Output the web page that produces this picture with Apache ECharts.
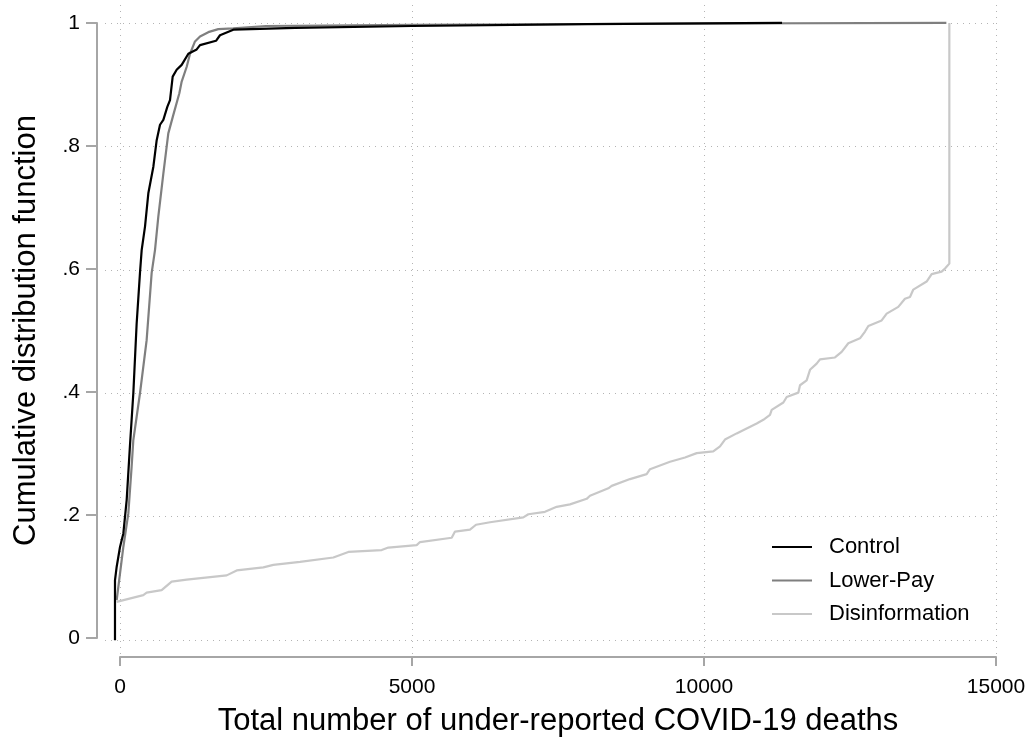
<!DOCTYPE html>
<html>
<head>
<meta charset="utf-8">
<script src="https://cdn.jsdelivr.net/npm/echarts@6/dist/echarts.min.js"></script>
<style>
html,body{margin:0;padding:0;background:#fff;}
#chart{width:1029px;height:742px;}
</style>
</head>
<body>
<div id="chart"></div>
<script>
// Data
const seriesNames = ['Control', 'Lower-Pay', 'Disinformation'];
const xTicks = [0, 5000, 10000, 15000];
const yTicks = [0, 0.2, 0.4, 0.6, 0.8, 1];

const controlX = [-86, -86, -57, 0, 57, 114, 171, 228, 285, 342, 371, 428, 485, 571, 628, 685, 742, 810, 856, 902, 970, 1056, 1170, 1313, 1370, 1644, 1712, 1940, 3000, 5000, 8000, 11336];
const controlY = [0, 0.097, 0.119, 0.151, 0.173, 0.227, 0.316, 0.400, 0.513, 0.595, 0.632, 0.670, 0.724, 0.767, 0.810, 0.835, 0.843, 0.864, 0.875, 0.913, 0.924, 0.932, 0.950, 0.957, 0.964, 0.971, 0.980, 0.989, 0.992, 0.995, 0.998, 1.0];

const lowerPayX = [-57, 57, 142, 199, 228, 285, 342, 456, 542, 599, 656, 742, 827, 913, 1016, 1056, 1142, 1199, 1284, 1370, 1512, 1683, 1940, 2500, 5000, 10000, 14150];
const lowerPayY = [0.065, 0.151, 0.205, 0.281, 0.324, 0.362, 0.400, 0.486, 0.595, 0.632, 0.686, 0.756, 0.821, 0.851, 0.886, 0.905, 0.929, 0.950, 0.970, 0.978, 0.985, 0.990, 0.991, 0.995, 0.997, 0.999, 1.0];

const disinfoX = [-57, 399, 456, 713, 884, 1142, 1827, 1998, 2454, 2625, 3082, 3653, 3910, 4481, 4595, 5080, 5137, 5680, 5736, 5993, 6096, 6336, 6906, 6992, 7277, 7477, 7705, 7991, 8048, 8362, 8419, 8733, 9018, 9075, 9418, 9675, 9875, 10159, 10274, 10359, 10559, 10730, 10902, 11016, 11130, 11159, 11359, 11416, 11615, 11644, 11758, 11815, 11929, 11986, 12243, 12357, 12471, 12671, 12757, 12814, 13042, 13128, 13327, 13441, 13527, 13584, 13812, 13898, 14069, 14127, 14201, 14201];
const disinfoY = [0.062, 0.073, 0.077, 0.081, 0.095, 0.098, 0.105, 0.113, 0.118, 0.122, 0.127, 0.134, 0.143, 0.146, 0.150, 0.154, 0.159, 0.166, 0.176, 0.179, 0.187, 0.191, 0.199, 0.204, 0.208, 0.216, 0.220, 0.229, 0.234, 0.246, 0.250, 0.261, 0.269, 0.277, 0.289, 0.296, 0.303, 0.306, 0.314, 0.325, 0.335, 0.343, 0.351, 0.357, 0.365, 0.373, 0.385, 0.394, 0.401, 0.413, 0.421, 0.438, 0.448, 0.455, 0.458, 0.467, 0.481, 0.489, 0.500, 0.509, 0.518, 0.529, 0.540, 0.553, 0.556, 0.568, 0.581, 0.593, 0.597, 0.602, 0.610, 1.0];

const colors = ['#000000', '#7f7f7f', '#c8c8c8'];

function zip(xs, ys) { return xs.map((x, i) => [x, ys[i]]); }

const font = 'Liberation Sans, Arial, Helvetica, sans-serif';
const axisColor = '#a6a6a6';
const gridLine = { show: true, lineStyle: { color: '#b4b4b4', width: 1, type: [1, 5] } };
const hiddenAxis = { show: false, splitLine: { show: false } };

// plot region (padded) in data units
const xPadMin = -257, xMax = 15000, yPadMin = -0.024, yPadMax = 1.029;

const chart = echarts.init(document.getElementById('chart'), null, { renderer: 'canvas' });
chart.setOption({
  animation: false,
  backgroundColor: '#ffffff',
  textStyle: { fontFamily: font },
  grid: [
    { left: 105, right: 33, top: 5, bottom: 87 },   // 0: data (padded plot region)
    { left: 120, right: 33, top: 23, bottom: 102 }, // 1: axes, ticks, labels
    { left: 120, right: 33, top: 5, bottom: 87 },   // 2: vertical grid lines
    { left: 105, right: 33, top: 23, bottom: 102 }  // 3: horizontal grid lines
  ],
  legend: {
    data: seriesNames,
    orient: 'vertical',
    left: 767,
    top: 531,
    itemWidth: 40,
    itemHeight: 22,
    itemGap: 11.5,
    icon: 'path://M0,0H40V2H0Z',
    textStyle: { fontSize: 22, color: '#000', fontFamily: font, padding: [0, 0, 0, 12] }
  },
  xAxis: [
    Object.assign({ gridIndex: 0, type: 'value', min: xPadMin, max: xMax }, hiddenAxis),
    {
      gridIndex: 1, type: 'value', min: xTicks[0], max: xTicks[xTicks.length - 1], interval: 5000,
      offset: 19,
      axisLine: { show: true, onZero: false, lineStyle: { color: axisColor, width: 2 } },
      axisTick: { show: true, length: 9, lineStyle: { color: axisColor, width: 2 } },
      axisLabel: { fontSize: 21, color: '#000', margin: 20, fontFamily: font, formatter: v => String(v) },
      splitLine: { show: false },
      name: 'Total number of under-reported COVID-19 deaths',
      nameLocation: 'middle', nameGap: 49,
      nameTextStyle: { fontSize: 31, color: '#000', fontFamily: font }
    },
    {
      gridIndex: 2, type: 'value', min: xTicks[0], max: xTicks[xTicks.length - 1], interval: 5000,
      axisLine: { show: false }, axisTick: { show: false }, axisLabel: { show: false },
      splitLine: gridLine
    },
    Object.assign({ gridIndex: 3, type: 'value', min: 0, max: 1 }, hiddenAxis)
  ],
  yAxis: [
    Object.assign({ gridIndex: 0, type: 'value', min: yPadMin, max: yPadMax }, hiddenAxis),
    {
      gridIndex: 1, type: 'value', min: yTicks[0], max: yTicks[yTicks.length - 1], interval: 0.2,
      offset: 23,
      axisLine: { show: true, onZero: false, lineStyle: { color: axisColor, width: 2 } },
      axisTick: { show: true, length: 11, lineStyle: { color: axisColor, width: 2 } },
      axisLabel: {
        fontSize: 21, color: '#000', margin: 17, fontFamily: font,
        formatter: function (v) {
          if (v === 0) return '0';
          if (Math.abs(v - 1) < 1e-9) return '1';
          return '.' + Math.round(v * 10);
        }
      },
      splitLine: { show: false },
      name: 'Cumulative distribution function',
      nameLocation: 'middle', nameGap: 55,
      nameTextStyle: { fontSize: 31, color: '#000', fontFamily: font }
    },
    Object.assign({ gridIndex: 2, type: 'value', min: 0, max: 1 }, hiddenAxis),
    {
      gridIndex: 3, type: 'value', min: yTicks[0], max: yTicks[yTicks.length - 1], interval: 0.2,
      axisLine: { show: false }, axisTick: { show: false }, axisLabel: { show: false },
      splitLine: gridLine
    }
  ],
  series: [
    {
      name: seriesNames[2], type: 'line', xAxisIndex: 0, yAxisIndex: 0,
      data: zip(disinfoX, disinfoY), symbol: 'none', z: 3,
      lineStyle: { color: colors[2], width: 2.2 }, itemStyle: { color: colors[2] }
    },
    {
      name: seriesNames[1], type: 'line', xAxisIndex: 0, yAxisIndex: 0,
      data: zip(lowerPayX, lowerPayY), symbol: 'none', z: 4,
      lineStyle: { color: colors[1], width: 2.2 }, itemStyle: { color: colors[1] }
    },
    {
      name: seriesNames[0], type: 'line', xAxisIndex: 0, yAxisIndex: 0,
      data: zip(controlX, controlY), symbol: 'none', z: 5,
      lineStyle: { color: colors[0], width: 2.2 }, itemStyle: { color: colors[0] }
    }
  ]
});
</script>
</body>
</html>
